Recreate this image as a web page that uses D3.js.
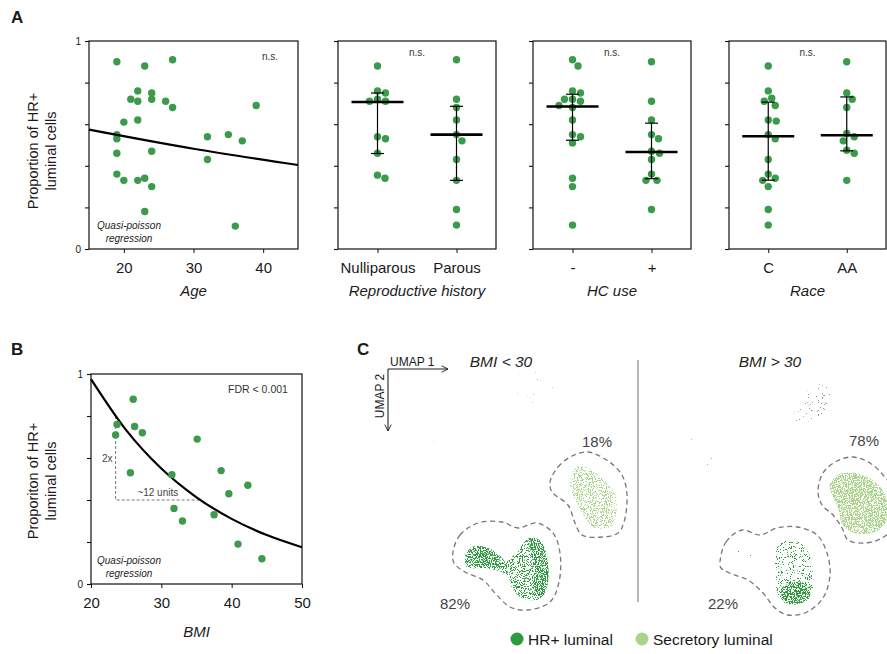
<!DOCTYPE html>
<html>
<head>
<meta charset="utf-8">
<script src="https://cdn.jsdelivr.net/npm/d3@7"></script>
<style>
body { margin: 0; background: #fff; }
svg { display: block; font-family: "Liberation Sans", Arial, Helvetica, sans-serif; }
</style>
</head>
<body>
<div id="chart"></div>
<script>
// ==============
//	DATA
// ==============

// A: age
var ageX = [19, 23, 27, 22, 24, 21, 22, 24, 26, 27, 39, 20, 22, 19, 19, 32, 35, 37, 24, 19, 32, 19, 20, 22, 23, 24, 23, 36];
var ageY = [0.90, 0.88, 0.91, 0.76, 0.75, 0.72, 0.71, 0.72, 0.71, 0.68, 0.69, 0.61, 0.62, 0.55, 0.53, 0.54, 0.55, 0.52, 0.47, 0.46, 0.43, 0.36, 0.33, 0.33, 0.34, 0.30, 0.18, 0.11];
var ageFitX = [15, 30, 45];
var ageFitY = [0.574, 0.482, 0.404];
var ageTicks = [20, 30, 40];

// A: categorical panels
var repCats = ["Nulliparous", "Parous"];
var repNulli = [0.88, 0.75, 0.76, 0.71, 0.71, 0.72, 0.53, 0.54, 0.46, 0.34, 0.355];
var repParous = [0.91, 0.72, 0.68, 0.62, 0.55, 0.52, 0.43, 0.33, 0.19, 0.115];
var repMedian = [0.707, 0.550], repLow = [0.459, 0.330], repHigh = [0.750, 0.686];

var hcCats = ["-", "+"];
var hcNeg = [0.88, 0.91, 0.76, 0.75, 0.72, 0.71, 0.68, 0.69, 0.72, 0.62, 0.55, 0.54, 0.51, 0.34, 0.30, 0.115];
var hcPos = [0.90, 0.71, 0.62, 0.55, 0.53, 0.47, 0.46, 0.43, 0.33, 0.33, 0.36, 0.19];
var hcMedian = [0.685, 0.466], hcLow = [0.523, 0.338], hcHigh = [0.744, 0.605];

var raceCats = ["C", "AA"];
var raceC = [0.88, 0.76, 0.725, 0.69, 0.71, 0.62, 0.615, 0.55, 0.53, 0.43, 0.34, 0.33, 0.36, 0.30, 0.19, 0.115];
var raceAA = [0.90, 0.75, 0.72, 0.68, 0.54, 0.555, 0.52, 0.475, 0.46, 0.33];
var raceMedian = [0.542, 0.547], raceLow = [0.331, 0.472], raceHigh = [0.706, 0.731];

// B: BMI
var bmiX = [26.0, 23.7, 23.5, 26.2, 27.3, 35.1, 25.6, 31.5, 38.5, 42.3, 39.6, 31.8, 33.0, 37.5, 40.9, 44.3];
var bmiY = [0.88, 0.76, 0.71, 0.75, 0.72, 0.69, 0.53, 0.52, 0.54, 0.47, 0.43, 0.36, 0.30, 0.33, 0.19, 0.12];
var bmiFitX = [20, 25, 30, 35, 40, 45, 50];
var bmiFitY = [0.976, 0.733, 0.550, 0.413, 0.310, 0.233, 0.175];
var bmiTicks = [20, 30, 40, 50];
var doubling = {x0: 23.5, x1: 35.5, yTop: 0.80, yBottom: 0.40};

// C: UMAP regions (UMAP units)
var leftSecOutline = [[16.5,13.3],[17.3,14.8],[18.7,15.9],[20.3,16.3],[22.3,15.4],[23.7,14.0],[24.2,12.0],[23.9,9.3],[23.3,8.2],[21.7,7.8],[19.7,8.0],[19.0,9.2],[18.3,11.0],[16.7,12.3]];
var leftHrOutline = [[6.8,6.3],[7.5,8.0],[9.3,9.2],[11.7,9.3],[13.3,8.7],[15.2,9.2],[16.8,8.2],[17.5,6.2],[17.4,3.3],[16.5,1.3],[14.3,0.5],[12.5,0.8],[11.0,2.2],[9.8,3.5],[8.0,4.3],[6.9,5.2]];
var leftHrCloud = [[8.0,5.3],[8.5,6.5],[9.3,6.9],[10.7,6.3],[12.0,5.3],[13.3,6.5],[14.3,7.6],[15.3,7.5],[16.0,6.3],[16.3,4.0],[16.0,2.3],[15.2,1.5],[13.7,1.7],[12.7,2.7],[12.2,4.0],[11.0,4.5],[9.7,4.7],[8.3,4.7]];
var leftHrHead = [[8.0,5.7],[8.7,6.8],[10.3,6.7],[11.7,5.7],[12.2,4.7],[11.0,4.7],[9.3,4.8]];
var leftHrArc = [[14.3,7.6],[15.3,7.6],[16.1,6.3],[16.3,3.3],[15.7,1.8],[15.0,2.3],[15.0,4.7],[14.6,6.3]];
var leftSecCloud = [[19.0,14.7],[20.0,14.8],[21.7,13.7],[23.0,12.0],[23.1,10.0],[22.5,8.8],[21.0,8.7],[20.3,9.3],[19.2,11.2],[18.5,13.0]];
var leftGreyA = [[12.0,24.0],[17.5,24.3],[18.0,21.0],[13.0,20.3]];
var leftGreyB = [[3.7,19.5],[5.5,19.0],[5.3,16.3],[3.5,16.5]];

var rightSecOutline = [[16.6,12.3],[17.1,14.2],[18.5,15.4],[20.1,15.8],[21.8,15.2],[23.1,14.0],[24.0,12.7],[24.0,8.7],[23.0,7.7],[21.3,7.2],[19.6,7.5],[19.0,8.7],[18.1,10.0],[17.0,11.0]];
var rightHrOutline = [[6.8,5.3],[7.4,7.3],[9.0,8.5],[10.8,8.0],[12.5,8.7],[14.5,8.8],[16.5,8.0],[17.5,6.2],[17.8,4.0],[17.1,1.7],[15.5,0.3],[13.6,0.0],[12.3,0.7],[11.1,2.2],[9.6,3.5],[8.0,4.1],[6.9,4.7]];
var rightSecCloud = [[17.8,13.0],[18.6,14.0],[20.3,14.2],[22.3,13.3],[23.3,12.0],[23.4,9.3],[22.3,8.3],[20.3,8.2],[19.1,9.0],[18.6,10.7],[18.0,12.0]];
var rightHrCloud = [[12.6,7.0],[14.3,7.5],[15.6,6.3],[16.1,4.0],[16.0,2.0],[15.0,1.2],[13.3,1.2],[12.5,2.3],[12.3,4.7]];
var rightHrCore = [[13.0,2.7],[15.0,3.3],[15.8,2.0],[15.0,1.2],[13.3,1.2]];
var rightHrTail = [[8.5,6.5],[12.5,7.0],[12.3,4.5],[9.0,5.0]];
var rightGreyTop = [[14.0,19.7],[15.0,21.3],[16.3,23.3],[17.6,22.7],[18.0,21.3],[17.3,20.0],[15.6,19.3]];
var rightGreyMid = [[2.3,18.0],[6.6,18.0],[6.6,14.7],[2.3,14.7]];

var leftPct = ["18%", "82%"], rightPct = ["78%", "22%"];
var legendLabels = ["HR+ luminal", "Secretory luminal"];

// ==============
//	STYLE
// ==============

var colDot = "#3b9a4b",
	colHr = "#2e9a3e",
	colSec = "#a9d48a",
	colText = "#1a1a1a",
	dotR = 3.7,
	fsAxis = "15px";

var svg = d3.select("#chart").append("svg")
	.attr("width", 887)
	.attr("height", 654);

// speckle filters (deterministic noise texture for UMAP clouds)
var defs = svg.append("defs");
[["spkDense", 0.47], ["spkMed", 0.54], ["spkSparse", 0.61], ["spkFaint", 0.70], ["spkGhost", 0.79]].forEach(function(f) {
	var k = 30;
	var flt = defs.append("filter").attr("id", f[0])
		.attr("x", "-5%").attr("y", "-5%").attr("width", "110%").attr("height", "110%");
	flt.append("feTurbulence").attr("type", "fractalNoise").attr("baseFrequency", "0.93 0.87")
		.attr("numOctaves", 2).attr("seed", 4).attr("result", "noise");
	flt.append("feColorMatrix").attr("in", "noise").attr("type", "matrix")
		.attr("values", "0 0 0 0 0  0 0 0 0 0  0 0 0 0 0  " + k + " 0 0 0 " + (-k * f[1]))
		.attr("result", "mask");
	flt.append("feComposite").attr("in", "SourceGraphic").attr("in2", "mask").attr("operator", "in");
});
defs.append("marker").attr("id", "arrow")
	.attr("viewBox", "0 0 10 10").attr("refX", 9).attr("refY", 5)
	.attr("markerWidth", 8).attr("markerHeight", 8).attr("orient", "auto")
	.attr("markerUnits", "userSpaceOnUse")
	.append("path").attr("d", "M1,1 L9,5 L1,9").attr("fill", "none").attr("stroke", "#222").attr("stroke-width", 1.2);

// ==============
//	HELPERS
// ==============

function panelLetter(t, x, y) {
	svg.append("text").attr("x", x).attr("y", y)
		.style("font-size", "17px").style("font-weight", "bold").attr("fill", colText).text(t);
}

function yAxisFrame(g, y, x0, x1, labels) {
	var ax = d3.axisLeft(y).tickValues([0, 0.2, 0.4, 0.6, 0.8, 1]).tickSize(4).tickSizeOuter(0)
		.tickFormat(d => labels && (d === 0 || d === 1) ? d : "");
	var a = g.append("g").attr("transform", "translate(" + x0 + ",0)").call(ax);
	a.select(".domain").remove();
	a.selectAll("line").attr("stroke", "#111").attr("stroke-width", 1.1);
	a.selectAll("text").style("font-size", "10px").attr("fill", colText).attr("dx", "-1");
	g.append("rect")
		.attr("x", x0).attr("y", y(1))
		.attr("width", x1 - x0).attr("height", y(0) - y(1))
		.attr("fill", "none").attr("stroke", "#111").attr("stroke-width", 1.2);
}

function yTitle(g, x, cy, lines) {
	g.append("g").selectAll("text").data(lines).join("text")
		.attr("transform", (d, i) => "translate(" + (x + i * 18) + "," + cy + ") rotate(-90)")
		.attr("text-anchor", "middle")
		.style("font-size", "14.5px").attr("fill", colText)
		.text(d => d);
}

function xTitle(g, cx, y, t) {
	g.append("text").attr("x", cx).attr("y", y).attr("text-anchor", "middle")
		.style("font-size", fsAxis).style("font-style", "italic").attr("fill", colText).text(t);
}

function quasiLabel(g, cx, y) {
	g.append("g").selectAll("text").data(["Quasi-poisson", "regression"]).join("text")
		.attr("x", cx).attr("y", (d, i) => y + i * 13)
		.attr("text-anchor", "middle")
		.style("font-size", "10px").style("font-style", "italic").attr("fill", "#222")
		.text(d => d);
}

// simple deterministic beeswarm
function swarm(values, cx, y, r) {
	var placed = [], out = new Array(values.length);
	var order = d3.range(values.length).sort((a, b) => values[b] - values[a]);
	order.forEach(function(i) {
		var py = y(values[i]), best = null;
		for (var o = 0; o <= 40 && best === null; o += 0.5) {
			var sides = o === 0 ? [0] : [o, -o];
			for (var s = 0; s < sides.length; s++) {
				var px = cx + sides[s];
				if (placed.every(p => (p[0] - px) * (p[0] - px) + (p[1] - py) * (p[1] - py) >= (2 * r + 0.6) * (2 * r + 0.6))) {
					best = px; break;
				}
			}
		}
		placed.push([best, py]);
		out[i] = [best, py];
	});
	return out;
}

// ==============
//	PANEL A
// ==============

panelLetter("A", 11, 23);

var yA = d3.scaleLinear().domain([0, 1]).range([249, 41]);

// --- age
var gAge = svg.append("g");
var xAge = d3.scaleLinear().domain([15, 45]).range([89, 298]);
yAxisFrame(gAge, yA, 89, 298, true);
var axAge = gAge.append("g").attr("transform", "translate(0,249)")
	.call(d3.axisBottom(xAge).tickValues(ageTicks).tickSize(4).tickPadding(9));
axAge.select(".domain").remove();
axAge.selectAll("text").style("font-size", fsAxis).attr("fill", colText);
axAge.selectAll("line").attr("stroke", "#111");

gAge.append("g").selectAll("circle").data(ageX).join("circle")
	.attr("cx", d => xAge(d)).attr("cy", (d, i) => yA(ageY[i]))
	.attr("r", dotR).attr("fill", colDot);

gAge.append("path")
	.datum(ageFitX.map((d, i) => [d, ageFitY[i]]))
	.attr("d", d3.line().x(d => xAge(d[0])).y(d => yA(d[1])).curve(d3.curveMonotoneX))
	.attr("fill", "none").attr("stroke", "#000").attr("stroke-width", 2.2);

gAge.append("text").attr("x", 270).attr("y", 60).attr("text-anchor", "middle")
	.style("font-size", "10px").attr("fill", "#333").text("n.s.");
quasiLabel(gAge, 129, 229);
yTitle(gAge, 38, 151, ["Proportion of HR+", "luminal cells"]);
xTitle(gAge, 193.5, 296, "Age");

// --- categorical panels
function catPanel(x0, x1, cats, groups, med, lo, hi, title) {
	var g = svg.append("g");
	var x = d3.scalePoint().domain(cats).range([x0, x1]).padding(0.5);
	yAxisFrame(g, yA, x0, x1, false);
	var ax = g.append("g").attr("transform", "translate(0,249)")
		.call(d3.axisBottom(x).tickSize(4).tickPadding(9).tickSizeOuter(0));
	ax.select(".domain").remove();
	ax.selectAll("text").style("font-size", fsAxis).attr("fill", colText);
	ax.selectAll("line").attr("stroke", "#111");

	groups.forEach(function(vals, gi) {
		var pos = swarm(vals, x(cats[gi]), yA, dotR);
		g.append("g").selectAll("circle").data(pos).join("circle")
			.attr("cx", d => d[0]).attr("cy", d => d[1])
			.attr("r", dotR).attr("fill", colDot);
	});

	var bars = g.append("g").attr("stroke", "#000").selectAll("g").data(cats).join("g");
	bars.append("line")
		.attr("x1", d => x(d)).attr("x2", d => x(d))
		.attr("y1", (d, i) => yA(hi[i])).attr("y2", (d, i) => yA(lo[i]))
		.attr("stroke-width", 1.2);
	bars.append("line")
		.attr("x1", d => x(d) - 6.5).attr("x2", d => x(d) + 6.5)
		.attr("y1", (d, i) => yA(hi[i])).attr("y2", (d, i) => yA(hi[i]))
		.attr("stroke-width", 1.2);
	bars.append("line")
		.attr("x1", d => x(d) - 6.5).attr("x2", d => x(d) + 6.5)
		.attr("y1", (d, i) => yA(lo[i])).attr("y2", (d, i) => yA(lo[i]))
		.attr("stroke-width", 1.2);
	bars.append("line")
		.attr("x1", d => x(d) - 26).attr("x2", d => x(d) + 26)
		.attr("y1", (d, i) => yA(med[i])).attr("y2", (d, i) => yA(med[i]))
		.attr("stroke-width", 2.6);

	g.append("text").attr("x", (x0 + x1) / 2).attr("y", 56).attr("text-anchor", "middle")
		.style("font-size", "10px").attr("fill", "#333").text("n.s.");
	xTitle(g, (x0 + x1) / 2, 296, title);
}

catPanel(338, 496, repCats, [repNulli, repParous], repMedian, repLow, repHigh, "Reproductive history");
catPanel(533, 691, hcCats, [hcNeg, hcPos], hcMedian, hcLow, hcHigh, "HC use");
catPanel(729, 886, raceCats, [raceC, raceAA], raceMedian, raceLow, raceHigh, "Race");

// ==============
//	PANEL B
// ==============

panelLetter("B", 11, 355);

var gB = svg.append("g");
var xB = d3.scaleLinear().domain([20, 50]).range([91, 302]);
var yB = d3.scaleLinear().domain([0, 1]).range([584, 374]);
yAxisFrame(gB, yB, 91, 302, true);
var axB = gB.append("g").attr("transform", "translate(0,584)")
	.call(d3.axisBottom(xB).tickValues(bmiTicks).tickSize(4).tickPadding(9).tickSizeOuter(0));
axB.select(".domain").remove();
axB.selectAll("text").style("font-size", fsAxis).attr("fill", colText);
axB.selectAll("line").attr("stroke", "#111");

// doubling guide
gB.append("path")
	.attr("d", "M" + xB(doubling.x0) + "," + yB(doubling.yTop) + "V" + yB(doubling.yBottom) + "H" + xB(doubling.x1))
	.attr("fill", "none").attr("stroke", "#777").attr("stroke-width", 1).attr("stroke-dasharray", "3,2");
gB.append("text").attr("x", xB(doubling.x0) - 3).attr("y", yB((doubling.yTop + doubling.yBottom) / 2) + 4)
	.attr("text-anchor", "end").style("font-size", "10px").attr("fill", "#444").text("2x");
gB.append("text").attr("x", xB((doubling.x0 + doubling.x1) / 2)).attr("y", yB(doubling.yBottom) - 4)
	.attr("text-anchor", "middle").style("font-size", "10px").attr("fill", "#444").text("~12 units");

gB.append("path")
	.datum(bmiFitX.map((d, i) => [d, bmiFitY[i]]))
	.attr("d", d3.line().x(d => xB(d[0])).y(d => yB(d[1])).curve(d3.curveMonotoneX))
	.attr("fill", "none").attr("stroke", "#000").attr("stroke-width", 2.2);

gB.append("g").selectAll("circle").data(bmiX).join("circle")
	.attr("cx", d => xB(d)).attr("cy", (d, i) => yB(bmiY[i]))
	.attr("r", dotR).attr("fill", colDot);

gB.append("text").attr("x", 258).attr("y", 393).attr("text-anchor", "middle")
	.style("font-size", "10.5px").attr("fill", "#333").text("FDR <  0.001");
quasiLabel(gB, 129, 564);
yTitle(gB, 38, 481, ["Proporiton of HR+", "luminal cells"]);
xTitle(gB, 196.5, 637, "BMI");

// ==============
//	PANEL C
// ==============

panelLetter("C", 357, 355);

var gC = svg.append("g");
var uy = d3.scaleLinear().domain([0, 24.5]).range([615, 370]);
var uxLeft = d3.scaleLinear().domain([0, 25]).range([385, 635]);
var uxRight = d3.scaleLinear().domain([0, 25]).range([652, 902]);

function blob(ux, pts, color, filter) {
	gC.append("path")
		.datum(pts)
		.attr("d", d3.line().x(d => ux(d[0])).y(d => uy(d[1])).curve(d3.curveCatmullRomClosed.alpha(0.5)))
		.attr("fill", color)
		.attr("filter", "url(#" + filter + ")");
}
function outline(ux, pts) {
	gC.append("path")
		.datum(pts)
		.attr("d", d3.line().x(d => ux(d[0])).y(d => uy(d[1])).curve(d3.curveCatmullRomClosed.alpha(0.5)))
		.attr("fill", "none").attr("stroke", "#777").attr("stroke-width", 1.3)
		.attr("stroke-dasharray", "5,3.5");
}

// left: BMI < 30
blob(uxLeft, leftGreyA, "#aaa", "spkGhost");
blob(uxLeft, leftGreyB, "#aaa", "spkGhost");
blob(uxLeft, leftSecCloud, colSec, "spkMed");
blob(uxLeft, leftHrCloud, colHr, "spkMed");
blob(uxLeft, leftHrHead, colHr, "spkDense");
blob(uxLeft, leftHrArc, colHr, "spkDense");
outline(uxLeft, leftSecOutline);
outline(uxLeft, leftHrOutline);

// right: BMI > 30
blob(uxRight, rightGreyTop, "#999", "spkFaint");
blob(uxRight, rightGreyMid, "#aaa", "spkGhost");
blob(uxRight, rightHrTail, colHr, "spkGhost");
blob(uxRight, rightSecCloud, colSec, "spkDense");
blob(uxRight, rightHrCloud, colHr, "spkSparse");
blob(uxRight, rightHrCore, colHr, "spkDense");
outline(uxRight, rightSecOutline);
outline(uxRight, rightHrOutline);

// separator
gC.append("line").attr("x1", 638).attr("x2", 638).attr("y1", 360).attr("y2", 602)
	.attr("stroke", "#888").attr("stroke-width", 1.2);

// UMAP axes
gC.append("line").attr("x1", 388).attr("y1", 369).attr("x2", 448).attr("y2", 369)
	.attr("stroke", "#222").attr("stroke-width", 1.1).attr("marker-end", "url(#arrow)");
gC.append("line").attr("x1", 388).attr("y1", 369).attr("x2", 388).attr("y2", 431)
	.attr("stroke", "#222").attr("stroke-width", 1.1).attr("marker-end", "url(#arrow)");
gC.append("text").attr("x", 390).attr("y", 366).style("font-size", "12px").attr("fill", colText).text("UMAP 1");
gC.append("text").attr("transform", "translate(384,396) rotate(-90)").attr("text-anchor", "middle")
	.style("font-size", "12px").attr("fill", colText).text("UMAP 2");

// titles
gC.append("text").attr("x", 501).attr("y", 367).attr("text-anchor", "middle")
	.style("font-size", "15.5px").style("font-style", "italic").attr("fill", "#222").text("BMI < 30");
gC.append("text").attr("x", 770).attr("y", 367).attr("text-anchor", "middle")
	.style("font-size", "15.5px").style("font-style", "italic").attr("fill", "#222").text("BMI > 30");

// percentages
gC.append("text").attr("x", uxLeft(21.2)).attr("y", 447).attr("text-anchor", "middle")
	.style("font-size", "15px").attr("fill", "#444").text(leftPct[0]);
gC.append("text").attr("x", uxLeft(7.0)).attr("y", 609).attr("text-anchor", "middle")
	.style("font-size", "15px").attr("fill", "#444").text(leftPct[1]);
gC.append("text").attr("x", uxRight(21.2)).attr("y", 446).attr("text-anchor", "middle")
	.style("font-size", "15px").attr("fill", "#444").text(rightPct[0]);
gC.append("text").attr("x", uxRight(7.1)).attr("y", 609).attr("text-anchor", "middle")
	.style("font-size", "15px").attr("fill", "#444").text(rightPct[1]);

// legend
var legX = d3.scalePoint().domain(legendLabels).range([517, 642]);
var leg = gC.append("g").selectAll("g").data(legendLabels).join("g")
	.attr("transform", d => "translate(" + legX(d) + ",639)");
leg.append("circle").attr("r", 6.5).attr("fill", (d, i) => i === 0 ? colHr : colSec);
leg.append("text").attr("x", 11).attr("y", 5.5).style("font-size", "15.5px").attr("fill", colText).text(d => d);
</script>
</body>
</html>
